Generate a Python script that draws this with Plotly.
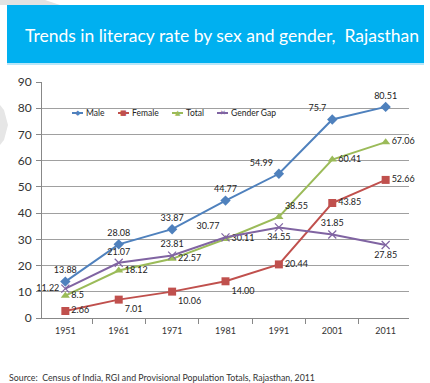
import plotly.graph_objects as go

years = ["1951", "1961", "1971", "1981", "1991", "2001", "2011"]
male = [13.88, 28.08, 33.87, 44.77, 54.99, 75.7, 80.51]
female = [2.66, 7.01, 10.06, 14.00, 20.44, 43.85, 52.66]
total = [8.5, 18.12, 22.57, 30.11, 38.55, 60.41, 67.06]
gap = [11.22, 21.07, 23.81, 30.77, 34.55, 31.85, 27.85]

male_txt = ["13.88", "28.08", "33.87", "44.77", "54.99", "75.7", "80.51"]
female_txt = ["2.66", "7.01", "10.06", "14.00", "20.44", "43.85", "52.66"]
total_txt = ["8.5", "18.12", "22.57", "30.11", "38.55", "60.41", "67.06"]
gap_txt = ["11.22", "21.07", "23.81", "30.77", "34.55", "31.85", "27.85"]

series_names = ["Male", "Female", "Total", "Gender Gap"]
colors = ["#4F81BD", "#C0504D", "#9BBB59", "#8064A2"]
glyphs = ["◆", "■", "▲", "✕"]

FONT = "Lato"
lblfont = dict(family=FONT, size=9, color="#222")

fig = go.Figure()
fig.add_trace(go.Scatter(
    x=years, y=male, name="Male", mode="lines+markers+text", cliponaxis=False, showlegend=False,
    line=dict(color=colors[0], width=2),
    marker=dict(symbol="diamond", size=8, color=colors[0]),
    text=male_txt,
    textposition=["top center", "top center", "top center", "top center", "top left", "top left", "top center"],
    textfont=lblfont))
fig.add_trace(go.Scatter(
    x=years, y=female, name="Female", mode="lines+markers+text", cliponaxis=False, showlegend=False,
    line=dict(color=colors[1], width=2),
    marker=dict(symbol="square", size=8, color=colors[1]),
    text=female_txt,
    textposition=["middle right", "bottom right", "bottom right", "bottom right", "middle right", "middle right", "middle right"],
    textfont=lblfont))
fig.add_trace(go.Scatter(
    x=years, y=total, name="Total", mode="lines+markers+text", cliponaxis=False, showlegend=False,
    line=dict(color=colors[2], width=2),
    marker=dict(symbol="triangle-up", size=8, color=colors[2]),
    text=total_txt,
    textposition=["middle right", "middle right", "middle right", "middle right", "top right", "middle right", "middle right"],
    textfont=lblfont))
fig.add_trace(go.Scatter(
    x=years, y=gap, name="Gender Gap", mode="lines+markers+text", cliponaxis=False, showlegend=False,
    line=dict(color=colors[3], width=2),
    marker=dict(symbol="x-thin", size=8, color=colors[3], line=dict(color=colors[3], width=1.2)),
    text=gap_txt,
    textposition=["middle left", "top center", "top center", "top left", "bottom center", "top center", "bottom center"],
    textfont=lblfont))

# plot area geometry in pixels
W, H = 430, 383
L, R, T, B = 42, 409, 82, 318
pw, ph = R - L, B - T

def px(x):
    return (x - L) / pw

def py(y):
    return (B - y) / ph

shapes = [
    dict(type="rect", xref="paper", yref="paper", x0=px(7), x1=px(424), y0=py(63), y1=py(5),
         fillcolor="#00B0F0", line=dict(width=0), layer="below"),
    dict(type="rect", xref="paper", yref="paper", x0=px(7), x1=px(424), y0=py(65), y1=py(63),
         fillcolor="#B8E6F8", line=dict(width=0), layer="below"),
    dict(type="path", xref="paper", yref="paper",
         path=f"M {px(0)},{py(0)} L {px(45)},{py(0)} L {px(60)},{py(5)} L {px(0)},{py(5)} Z",
         fillcolor="#E2E2E2", line=dict(width=0), layer="below"),
    dict(type="path", xref="paper", yref="paper",
         path=f"M {px(0)},{py(105)} L {px(4)},{py(110)} L {px(8)},{py(125)} L {px(4)},{py(140)} L {px(0)},{py(145)} Z",
         fillcolor="#E6E6E6", line=dict(width=0), layer="below"),
]

annotations = [
    dict(text="Trends in literacy rate by sex and gender,  Rajasthan", xref="paper", yref="paper",
         x=px(222), y=py(35), xanchor="center", yanchor="middle", showarrow=False,
         font=dict(family=FONT, size=17.5, color="white")),
    dict(text="Source:  Census of India, RGI and Provisional Population Totals, Rajasthan, 2011",
         xref="paper", yref="paper", x=px(7), y=py(377), xanchor="left", yanchor="middle",
         showarrow=False, font=dict(family=FONT, size=8.8, color="#333")),
]

# compact legend (Excel style) built from shapes + annotations
leg_x = [72, 118, 172, 217]
leg_y = 113
for name, col, g, lx in zip(series_names, colors, glyphs, leg_x):
    shapes.append(dict(type="line", xref="paper", yref="paper", x0=px(lx), x1=px(lx + 11),
                       y0=py(leg_y), y1=py(leg_y), line=dict(color=col, width=2)))
    annotations.append(dict(text=g, xref="paper", yref="paper", x=px(lx + 5.5), y=py(leg_y),
                            xanchor="center", yanchor="middle", showarrow=False,
                            font=dict(family="DejaVu Sans", size=7, color=col)))
    annotations.append(dict(text=name, xref="paper", yref="paper", x=px(lx + 12), y=py(leg_y),
                            xanchor="left", yanchor="middle", showarrow=False,
                            font=dict(family=FONT, size=8.5, color="#222")))

fig.update_layout(
    width=W, height=H,
    margin=dict(l=L, r=W - R, t=T, b=H - B, pad=0),
    paper_bgcolor="white", plot_bgcolor="white",
    font=dict(family=FONT, size=9, color="#333"),
    showlegend=False,
    shapes=shapes, annotations=annotations,
    xaxis=dict(type="category", showgrid=False, showline=True, linecolor="#888", linewidth=1,
               ticks="outside", tickson="boundaries", ticklen=5, tickcolor="#888",
               tickfont=dict(family=FONT, size=9, color="#333"), zeroline=False,
               ticklabelstandoff=4),
    yaxis=dict(range=[0, 90], dtick=10, showgrid=True, gridcolor="#A0A0A0", gridwidth=1,
               showline=True, linecolor="#888", ticks="outside", ticklen=5, tickcolor="#888",
               tickfont=dict(family=FONT, size=12, color="#333"), zeroline=False, ticklabelstandoff=2),
)

fig.write_html("out.html")
